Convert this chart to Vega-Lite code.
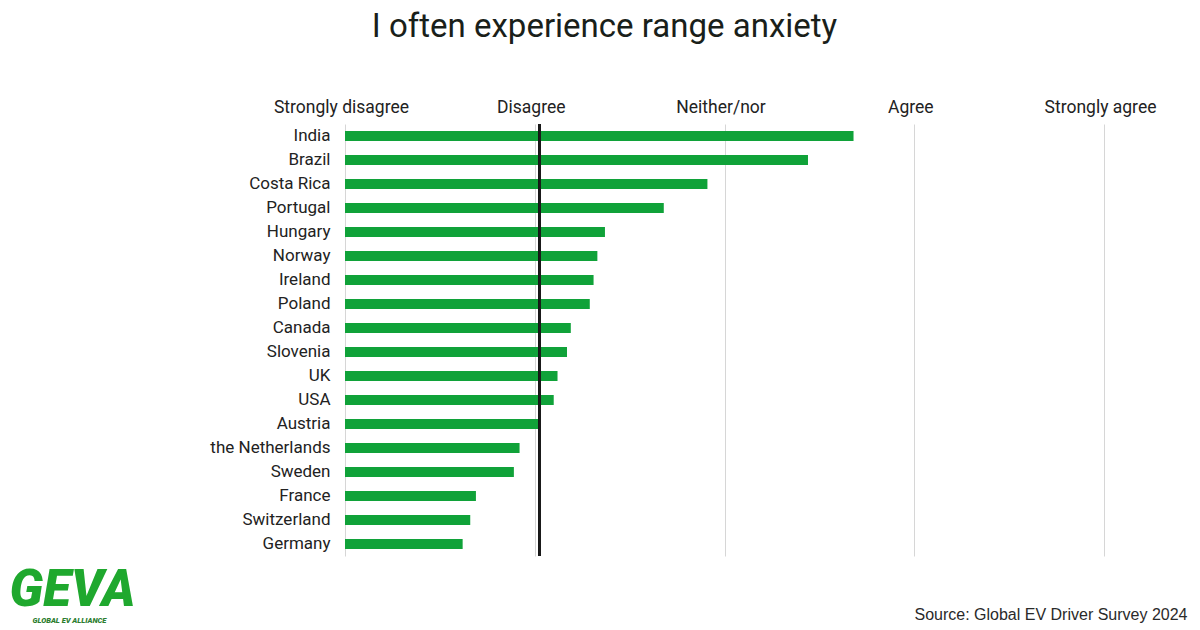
{
  "$schema": "https://vega.github.io/schema/vega-lite/v6.json",
  "autosize": {"type": "none"},
  "width": 759,
  "height": 432,
  "padding": {"left": 345, "top": 124, "right": 96, "bottom": 74},
  "background": "white",
  "title": {
    "text": "I often experience range anxiety",
    "anchor": "middle",
    "dx": -120,
    "offset": 54,
    "font": "Roboto",
    "fontSize": 33,
    "fontWeight": "normal",
    "color": "#1a1f1a"
  },
  "data": {
    "values": [
      {"country": "India", "score": 3.68},
      {"country": "Brazil", "score": 3.44},
      {"country": "Costa Rica", "score": 2.91},
      {"country": "Portugal", "score": 2.68},
      {"country": "Hungary", "score": 2.37},
      {"country": "Norway", "score": 2.33},
      {"country": "Ireland", "score": 2.31},
      {"country": "Poland", "score": 2.29},
      {"country": "Canada", "score": 2.19},
      {"country": "Slovenia", "score": 2.17},
      {"country": "UK", "score": 2.12},
      {"country": "USA", "score": 2.1},
      {"country": "Austria", "score": 2.03},
      {"country": "the Netherlands", "score": 1.92},
      {"country": "Sweden", "score": 1.89},
      {"country": "France", "score": 1.69},
      {"country": "Switzerland", "score": 1.66},
      {"country": "Germany", "score": 1.62}
    ]
  },
  "layer": [
    {
      "mark": {"type": "bar", "height": 10, "color": "#10a239"},
      "encoding": {
        "y": {
          "field": "country",
          "type": "nominal",
          "sort": null,
          "scale": {"paddingInner": 0, "paddingOuter": 0},
          "axis": {
            "orient": "left",
            "domain": false,
            "ticks": false,
            "labelPadding": 15,
            "labelFont": "Roboto",
            "labelFontSize": 17,
            "labelColor": "#222222",
            "title": "GEVA",
            "titleAngle": 0,
            "titleX": -336,
            "titleY": 481,
            "titleAlign": "left",
            "titleBaseline": "alphabetic",
            "titleFont": "Roboto",
            "titleFontSize": 51,
            "titleFontWeight": 900,
            "titleFontStyle": "italic",
            "titleColor": "#1fa82e"
          }
        },
        "x": {
          "field": "score",
          "type": "quantitative",
          "scale": {"domain": [1, 5], "zero": false, "nice": false},
          "axis": {
            "orient": "top",
            "values": [1, 2, 3, 4, 5],
            "labelExpr": "['', 'Strongly disagree', 'Disagree', 'Neither/nor', 'Agree', 'Strongly agree'][datum.value]",
            "domain": false,
            "ticks": false,
            "grid": true,
            "gridColor": "#d6d6d6",
            "gridWidth": 1,
            "labelPadding": 8,
            "labelOffset": -4,
            "labelFont": "Roboto",
            "labelFontSize": 17.5,
            "labelColor": "#222222",
            "labelFlush": false,
            "labelOverlap": false,
            "title": null
          }
        },
        "x2": {"datum": 1}
      }
    },
    {
      "mark": {"type": "rule", "color": "#1a1a1a", "strokeWidth": 1.8},
      "encoding": {
        "x": {
          "datum": 2.026,
          "type": "quantitative",
          "axis": {
            "orient": "bottom",
            "labels": false,
            "ticks": false,
            "domain": false,
            "grid": false,
            "title": "Source: Global EV Driver Survey 2024",
            "titleX": 842,
            "titleY": 63,
            "titleAlign": "right",
            "titleBaseline": "alphabetic",
            "titleFont": "Liberation Sans",
            "titleFontSize": 16,
            "titleFontWeight": "normal",
            "titleColor": "#2a2a2a"
          }
        }
      }
    },
    {
      "mark": {"type": "point", "opacity": 0},
      "encoding": {
        "y": {
          "field": "country",
          "type": "nominal",
          "sort": null,
          "axis": {
            "orient": "right",
            "labels": false,
            "ticks": false,
            "domain": false,
            "grid": false,
            "title": "GLOBAL EV ALLIANCE",
            "titleAngle": 0,
            "titleX": -1072,
            "titleY": 498,
            "titleAlign": "left",
            "titleBaseline": "alphabetic",
            "titleFont": "Roboto",
            "titleFontSize": 7.5,
            "titleFontWeight": 900,
            "titleFontStyle": "italic",
            "titleColor": "#2c7d2f"
          }
        }
      }
    }
  ],
  "resolve": {"axis": {"x": "independent", "y": "independent"}},
  "config": {"view": {"stroke": null}}
}
